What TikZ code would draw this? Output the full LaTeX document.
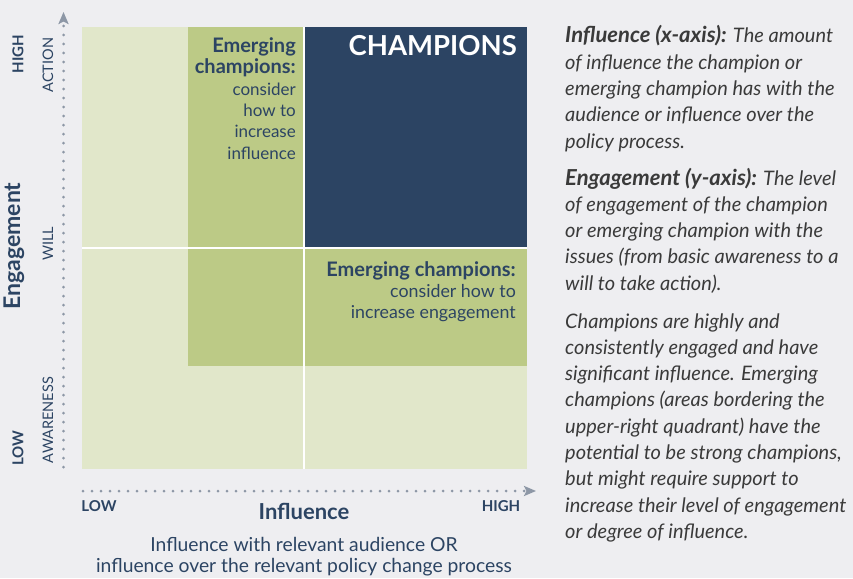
\documentclass[tikz,border=0pt]{standalone}
\usepackage{fontspec}
\setmainfont{Lato}
\usepackage{tikz}
\usetikzlibrary{arrows.meta,positioning}
\definecolor{navy}{HTML}{2C4463}
\definecolor{palegreen}{HTML}{E1E7CA}
\definecolor{midgreen}{HTML}{BCCA86}
\definecolor{paper}{HTML}{EEEEF1}
\definecolor{dotgrey}{HTML}{8D97A6}
\definecolor{bodygrey}{HTML}{3A3A3A}
\newcommand{\heavy}[1]{{\fontsize{20}{21.3}\selectfont\bfseries #1}}
\newcommand{\notehead}[1]{{\fontsize{22}{26.3}\selectfont\bfseries\itshape #1}}
\tikzset{
    axis/.style={
           draw=dotgrey,
           line width=3pt,
           line cap=round,
           dash pattern=on 0pt off 9pt,
           -{Stealth[length=12pt,width=10pt,inset=2.5pt,fill=dotgrey]},
           },
    quadtext/.style={
           align=right,
           text=navy,
           font=\fontsize{17}{21.3}\selectfont,
           inner sep=0pt,
           anchor=north east,
           },
    notetext/.style={
           text=bodygrey,
           font=\fontsize{20}{26.3}\selectfont\itshape,
           inner sep=0pt,
           anchor=base west,
           },
}

\begin{document}
\begin{tikzpicture}[
  x=1pt,y=-1pt,
  ticklabel/.style={text=navy,font=\fontsize{15}{15}\selectfont\bfseries,inner sep=0pt},
  levellabel/.style={text=navy,font=\fontsize{14.5}{14.5}\selectfont,inner sep=0pt,rotate=90},
  split/.style={draw=white,line width=2pt}]
\useasboundingbox[fill=paper] (0,0) rectangle (853,578);

% quadrants
\fill[palegreen] (82,27) rectangle (527,469);
\fill[midgreen] (188,27) rectangle (527,365.5);
\fill[navy] (304,27) rectangle (527,248);
\draw[split] (303.5,27) -- (303.5,469);
\draw[split] (82,248.3) -- (527,248.3);

% axes
\coordinate (yfoot) at (63.5,467);
\coordinate (ytip) at (63.5,12);
\coordinate (xfoot) at (83,491);
\coordinate (xtip) at (536,491);
\draw[axis] (yfoot) -- (ytip);
\draw[axis] (xfoot) -- (xtip);

% y-axis labels
\node[ticklabel,rotate=90](yhigh) at (18,54){HIGH};
\node[ticklabel,rotate=90](ylow) at (18,448){LOW};
\node[text=navy,font=\fontsize{23}{23}\selectfont\bfseries,rotate=90,inner sep=0pt](ytitle) at (14,246){Engagement};
\node[levellabel](action) at (48,65){ACTION};
\node[levellabel](will) at (48,244){WILL};
\node[levellabel](awareness) at (48,420){AWARENESS};

% x-axis labels
\node[ticklabel](xlow) at (99,506){LOW};
\node[ticklabel](xhigh) at (501,506){HIGH};
\node[text=navy,font=\fontsize{22}{22}\selectfont\bfseries,inner sep=0pt](xtitle) at (304,511){Influence};
\node[text=navy,font=\fontsize{19.3}{21}\selectfont,align=center,inner sep=0pt,below=18pt of xtitle](xdescr){Influence with relevant audience OR\\influence over the relevant policy change process};

% quadrant texts
\node[quadtext,anchor=base east](champions) at (517,56){\fontsize{27.5}{27.5}\selectfont\bfseries\color{white}CHAMPIONS};
\node[quadtext](emergeinf) at (296,37.5){\heavy{Emerging}\\\heavy{champions:}\\consider\\how to\\increase\\influence};
\node[quadtext,font=\fontsize{17.8}{21.3}\selectfont](emergeeng) at (516,261){\heavy{Emerging champions:}\\consider how to\\increase engagement};

% notes
\node[notetext](notex) at (565,43){\parbox[t]{288pt}{\raggedright\notehead{Influence (x-axis):} The amount\\of influence the champion or\\emerging champion has with the\\audience or influence over the\\policy process.}};
\node[notetext](notey) at (565,185){\parbox[t]{288pt}{\raggedright\notehead{Engagement (y-axis):} The level\\of engagement of the champion\\or emerging champion with the\\issues (from basic awareness to a\\will to take action).}};
\node[notetext](notechamp) at (565,328){\parbox[t]{288pt}{\raggedright Champions are highly and\\consistently engaged and have\\significant influence. Emerging\\champions (areas bordering the\\upper-right quadrant) have the\\potential to be strong champions,\\but might require support to\\increase their level of engagement\\or degree of influence.}};
\end{tikzpicture}
\end{document}
